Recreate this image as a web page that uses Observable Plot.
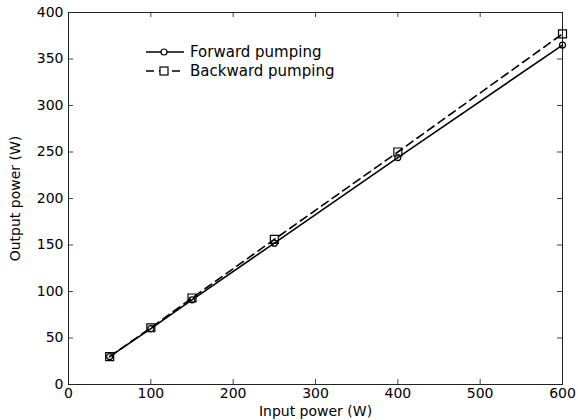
<!DOCTYPE html>
<html><head><meta charset="utf-8">
<script src="https://cdn.jsdelivr.net/npm/d3@7"></script>
<script src="https://cdn.jsdelivr.net/npm/@observablehq/plot@0.6"></script>
<style>
html,body{margin:0;padding:0;background:#fff;}
#wrap{position:relative;width:578px;height:420px;}
#legend{position:absolute;left:0;top:0;pointer-events:none;}
</style></head><body><div id="wrap"></div>
<script>
const inputPower = [50, 100, 150, 250, 400, 600];
const forwardPumping = [30, 60, 91, 152, 244, 365];
const backwardPumping = [30, 61, 93, 156, 250, 377];
const xTicks = [0, 100, 200, 300, 400, 500, 600];
const yTicks = [0, 50, 100, 150, 200, 250, 300, 350, 400];
const seriesNames = ["Forward pumping", "Backward pumping"];
const xLabel = "Input power (W)";
const yLabel = "Output power (W)";

const W = 578, H = 420, mt = 12, mb = 36, ml = 68, mr = 16;
const ph = H - mt - mb, pw = W - ml - mr;
const fwd = inputPower.map((x, i) => ({x, y: forwardPumping[i]}));
const bwd = inputPower.map((x, i) => ({x, y: backwardPumping[i]}));

const chart = Plot.plot({
  width: W, height: H,
  marginTop: mt, marginBottom: mb, marginLeft: ml, marginRight: mr,
  style: {fontFamily: "DejaVu Sans", fontSize: "14px", color: "#000", background: "#fff"},
  x: {domain: [0, 600]},
  y: {domain: [0, 400]},
  marks: [
    Plot.tickX(xTicks, {x: d => d, insetTop: ph - 5, stroke: "#444"}),
    Plot.tickX(xTicks, {x: d => d, insetBottom: ph - 5, stroke: "#444"}),
    Plot.tickY(yTicks, {y: d => d, insetRight: pw - 5, stroke: "#444"}),
    Plot.tickY(yTicks, {y: d => d, insetLeft: pw - 5, stroke: "#444"}),
    Plot.axisX(xTicks, {tickSize: 0, tickPadding: 4, label: xLabel, labelAnchor: "center", labelArrow: "none", labelOffset: 31, fontSize: 14}),
    Plot.axisY(yTicks, {tickSize: 0, tickPadding: 5, label: yLabel, labelAnchor: "center", labelArrow: "none", labelOffset: 58, fontSize: 14}),
    Plot.frame({stroke: "#222"}),
    Plot.line(fwd, {x: "x", y: "y", stroke: "#000", strokeWidth: 1.6}),
    Plot.line(bwd, {x: "x", y: "y", stroke: "#000", strokeWidth: 1.6, strokeDasharray: "8,5"}),
    Plot.dot(fwd, {x: "x", y: "y", symbol: "circle", r: 3, stroke: "#000", strokeWidth: 1.2, fill: "none"}),
    Plot.dot(bwd, {x: "x", y: "y", symbol: "square", r: 4.5, stroke: "#000", strokeWidth: 1.2, fill: "none"})
  ]
});
const wrap = document.getElementById("wrap");
wrap.appendChild(chart);

// legend overlay
const leg = d3.select(wrap).append("svg").attr("id", "legend").attr("width", W).attr("height", H);
const items = [
  {name: seriesNames[0], dash: null, sym: "circle", y: 52},
  {name: seriesNames[1], dash: "8,5", sym: "square", y: 71}
];
items.forEach(it => {
  const g = leg.append("g");
  g.append("line").attr("x1", 146).attr("x2", 184).attr("y1", it.y).attr("y2", it.y)
    .attr("stroke", "#000").attr("stroke-width", 1.6).attr("stroke-dasharray", it.dash);
  if (it.sym === "circle") {
    g.append("circle").attr("cx", 164).attr("cy", it.y).attr("r", 3).attr("fill", "#fff").attr("stroke", "#000").attr("stroke-width", 1.2);
  } else {
    g.append("rect").attr("x", 160).attr("y", it.y - 4).attr("width", 8).attr("height", 8).attr("fill", "#fff").attr("stroke", "#000").attr("stroke-width", 1.2);
  }
  g.append("text").attr("x", 190).attr("y", it.y).attr("dy", "0.35em")
    .attr("font-family", "DejaVu Sans").attr("font-size", 15).text(it.name);
});
</script></body></html>
